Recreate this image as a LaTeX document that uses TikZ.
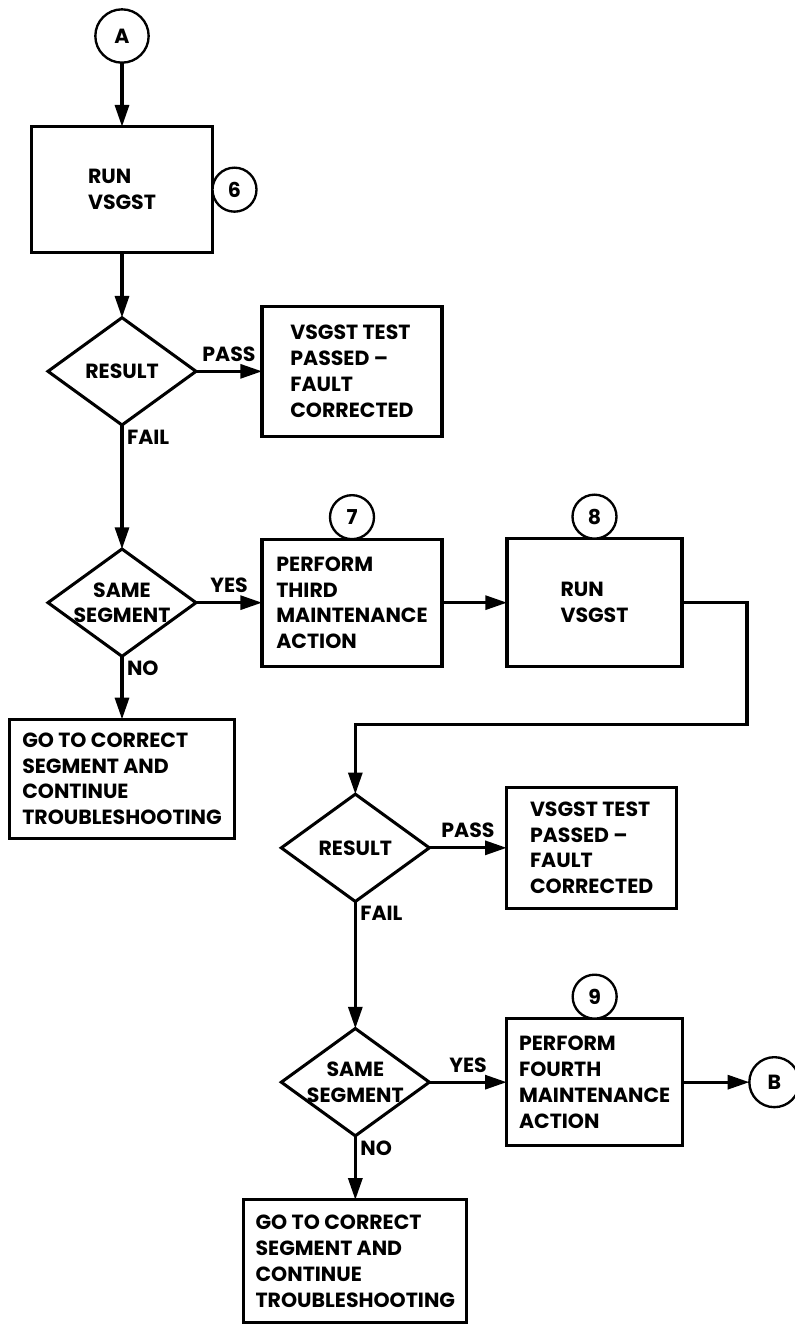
\documentclass[tikz,border=0pt]{standalone}
\usepackage{fontspec}
\setmainfont{Poppins}
\usetikzlibrary{shapes.geometric,arrows.meta,positioning}
\newcommand{\chartfont}{\bfseries\fontsize{17.5}{22}\selectfont}
\tikzset{
    % Define standard node styles
    stepbox/.style={
        rectangle, draw, line width=2.7pt, fill=white,
        align=left, inner sep=0pt, outer sep=0pt
    },
    decision/.style={
        diamond, draw, line width=2.6pt, fill=white,
        inner sep=0pt, outer sep=0pt,
        minimum width=4.44cm, minimum height=3.22cm
    },
    refcircle/.style={
        circle, draw, line width=2pt, fill=white,
        minimum size=1.32cm, inner sep=0pt, outer sep=0pt
    },
    connector/.style={
        circle, draw, line width=2pt, fill=white,
        minimum size=1.6cm, inner sep=0pt, outer sep=0pt
    },
    arrow/.style={
        ->, >={Triangle[length=6.5mm,width=4.2mm]}, line width=2.6pt
    },
    branch/.style={
        inner sep=3pt
    }
}

\begin{document}
\begin{tikzpicture}[font=\chartfont]
\useasboundingbox (0,0) rectangle (23.85,-39.78);

\node[connector] (startA) at (3.66,-1.08) {A};
\node[stepbox, minimum width=5.43cm, minimum height=3.78cm, below=1.92cm of startA] (run1) {RUN\\VSGST};
\node[refcircle, right=0pt of run1] (ref6) {6};
\node[decision, below=1.95cm of run1, label=center:RESULT] (result1) {};
\node[stepbox, minimum width=5.4cm, minimum height=3.9cm, right=1.98cm of result1] (passed1) {VSGST TEST\\PASSED --\\FAULT\\CORRECTED};
\node[decision, below=3.72cm of result1, label={[align=center]center:SAME\\SEGMENT}] (same1) {};
\node[stepbox, minimum width=5.4cm, minimum height=3.81cm, right=1.98cm of same1] (maint3) {PERFORM\\THIRD\\MAINTENANCE\\ACTION};
\node[refcircle, above=0pt of maint3] (ref7) {7};
\node[stepbox, minimum width=5.25cm, minimum height=3.84cm, right=1.95cm of maint3] (run2) {RUN\\VSGST};
\node[refcircle, above=0pt of run2] (ref8) {8};
\node[stepbox, minimum width=6.75cm, minimum height=3.57cm, below=1.89cm of same1] (goto1) {GO TO CORRECT\\SEGMENT AND\\CONTINUE\\TROUBLESHOOTING};

\node[decision, below=3.84cm of maint3, xshift=0.1cm, label=center:RESULT] (result2) {};
\node[stepbox, minimum width=5.1cm, minimum height=3.63cm, right=2.32cm of result2] (passed2) {VSGST TEST\\PASSED --\\FAULT\\CORRECTED};
\node[decision, below=3.81cm of result2, label={[align=center]center:SAME\\SEGMENT}] (same2) {};
\node[stepbox, minimum width=5.28cm, minimum height=3.81cm, right=2.32cm of same2] (maint4) {PERFORM\\FOURTH\\MAINTENANCE\\ACTION};
\node[refcircle, above=0pt of maint4] (ref9) {9};
\node[connector, minimum size=1.5cm, right=2.0cm of maint4] (endB) {B};
\node[stepbox, minimum width=6.69cm, minimum height=3.69cm, below=1.92cm of same2] (goto2) {GO TO CORRECT\\SEGMENT AND\\CONTINUE\\TROUBLESHOOTING};

\draw[arrow] (startA) -- (run1);
\draw[arrow] (run1) -- (result1);
\draw[arrow] (result1) -- node[branch, above=4pt] {PASS} (passed1);
\draw[arrow] (result1) -- node[branch, pos=0, below right] {FAIL} (same1);
\draw[arrow] (same1) -- node[branch, above=4pt] {YES} (maint3);
\draw[arrow] (same1) -- node[branch, pos=0, below right] {NO} (goto1);
\draw[arrow] (maint3) -- (run2);
\draw[arrow] (run2.east) -- ++(1.95cm,0) -- ++(0,-3.66cm) -| (result2.north);
\draw[arrow] (result2) -- node[branch, above=4pt] {PASS} (passed2);
\draw[arrow] (result2) -- node[branch, pos=0, below right] {FAIL} (same2);
\draw[arrow] (same2) -- node[branch, above=4pt] {YES} (maint4);
\draw[arrow] (same2) -- node[branch, pos=0, below right] {NO} (goto2);
\draw[arrow] (maint4) -- (endB);

\end{tikzpicture}
\end{document}
